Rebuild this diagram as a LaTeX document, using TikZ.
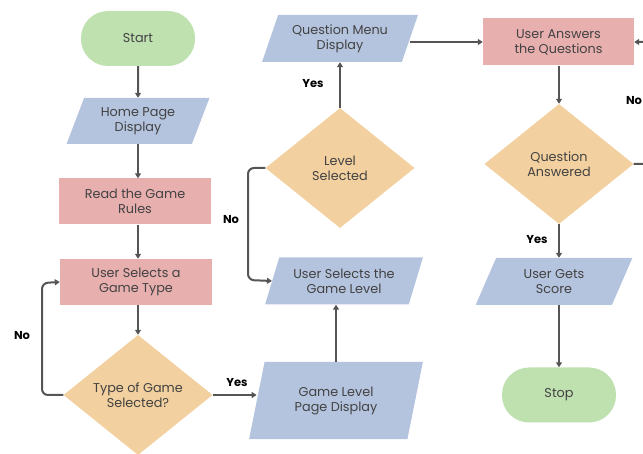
\documentclass[tikz,border=0pt]{standalone}
\usepackage{fontspec}
\setmainfont{Poppins}
\usetikzlibrary{shapes.geometric,arrows.meta}
\definecolor{termgreen}{HTML}{BFE1B0}
\definecolor{ioblue}{HTML}{B5C4DE}
\definecolor{procpink}{HTML}{E8AFAF}
\definecolor{decorange}{HTML}{F2D09F}
\definecolor{linegray}{HTML}{555555}
\definecolor{textgray}{HTML}{424242}
\tikzset{
  box/.style={draw=none, text=textgray, align=center,
    font=\fontsize{12.8}{15}\selectfont, inner sep=1pt},
  terminal/.style={box, fill=termgreen, rectangle, rounded corners=27pt,
    minimum width=114pt, minimum height=55pt},
  iobox/.style={box, fill=ioblue, trapezium, trapezium stretches=true,
    trapezium left angle=67, trapezium right angle=113,
    minimum width=156pt, minimum height=47pt},
  process/.style={box, fill=procpink, rectangle,
    minimum width=152pt, minimum height=46pt},
  decision/.style={box, fill=decorange, diamond,
    minimum width=149pt, minimum height=120pt},
  answer/.style={font=\fontsize{11.5}{13}\selectfont\bfseries, text=black},
  flow/.style={draw=linegray, line width=2pt,
    -{Triangle[length=5pt,width=6pt]}}
}
\begin{document}
\begin{tikzpicture}[x=1pt, y=-1pt]
  \useasboundingbox (0,0) rectangle (643,454);
  \clip (0,0) rectangle (643,454);
  % nodes
  \draw
    (138,38.5) node[terminal] (start){Start}
    (138,121) node[iobox, minimum width=143pt, minimum height=46pt] (home){Home Page\\Display}
    (135,201.5) node[process] (rules){Read the Game\\Rules}
    (136,282) node[process] (seltype){User Selects a\\Game Type}
    (138,395) node[decision] (typesel){Type of Game\\Selected?}
    (336,400.5) node[iobox, minimum width=174pt, minimum height=77pt,
      trapezium left angle=73, trapezium right angle=107] (gamelevel){Game Level\\Page Display}
    (344,281) node[iobox, minimum width=158pt] (sellevel){User Selects the\\Game Level}
    (340,168) node[decision] (levelsel){Level\\Selected}
    (340,38.5) node[iobox] (questmenu){Question Menu\\Display}
    (558.5,42) node[process, minimum width=151pt, minimum height=47pt] (answers){User Answers\\the Questions}
    (559,164) node[decision] (qanswered){Question\\Answered}
    (554,281.5) node[iobox, minimum width=158pt] (score){User Gets\\Score}
    (559,395) node[terminal] (stop){Stop};
  % connectors
  \begin{scope}[flow]
    \draw (start) to (home);
    \draw (home.south) to (home.south |- rules.north);
    \draw (rules.south -| home.south) to (seltype.north -| home.south);
    \draw (seltype.south -| typesel.north) to (typesel);
    \draw[rounded corners=6pt] (typesel.west) -- (42,395) -- (42,283) -- (seltype.west);
    \draw (typesel.east) to (typesel.east -| gamelevel.west);
    \draw (gamelevel.north) to (gamelevel.north |- sellevel.south);
    \draw[rounded corners=6pt] (levelsel.west) -- (248,168) -- (248,280) -- (sellevel.west);
    \draw (levelsel.north) to (levelsel.north |- questmenu.south);
    \draw (questmenu.east |- answers.west) to (answers.west);
    \draw (answers.south -| qanswered.north) to (qanswered.north);
    \draw (qanswered.south) to (qanswered.south |- score.north);
    \draw (score.south -| stop.north) to (stop.north);
    \draw[rounded corners=6pt] (qanswered.east) -- (660,164) -- (660,42) -- (answers.east);
  \end{scope}
  % branch labels
  \draw
    (22,336) node[answer] (notype){No}
    (237,383) node[answer] (yestype){Yes}
    (231,220) node[answer] (nolevel){No}
    (313,84) node[answer] (yeslevel){Yes}
    (634,101) node[answer] (noanswer){No}
    (537,240) node[answer] (yesanswer){Yes};
\end{tikzpicture}
\end{document}
